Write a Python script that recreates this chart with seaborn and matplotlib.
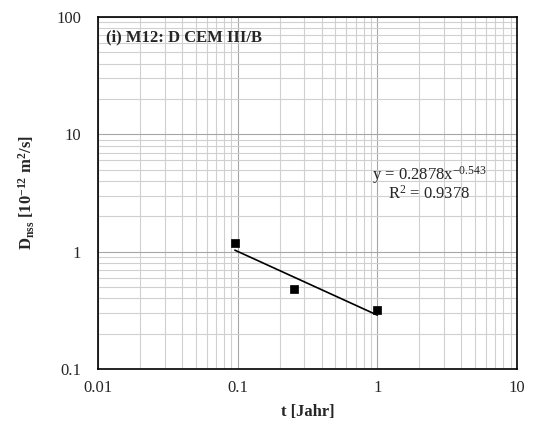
import numpy as np
import pandas as pd
import matplotlib
matplotlib.use("Agg")
import matplotlib.pyplot as plt
import seaborn as sns
from matplotlib.ticker import LogLocator, NullFormatter

sns.set_style("white")
plt.rcParams['font.family'] = ['Liberation Serif', 'DejaVu Serif']
plt.rcParams['mathtext.fontset'] = 'custom'
plt.rcParams['mathtext.rm'] = 'Liberation Serif'
plt.rcParams['mathtext.it'] = 'Liberation Serif:italic'
plt.rcParams['mathtext.bf'] = 'Liberation Serif:bold'
plt.rcParams['mathtext.default'] = 'regular'

t_years = [0.0955, 0.254, 1.0]
d_nss = [1.18, 0.481, 0.318]
fit_a = 0.2878
fit_b = -0.543
x_ticks = [0.01, 0.1, 1, 10]
x_tick_labels = ["0.01", "0.1", "1", "10"]
y_ticks = [0.1, 1, 10, 100]
y_tick_labels = ["0.1", "1", "10", "100"]

df = pd.DataFrame({"t": t_years, "D": d_nss})
fit_x = np.array([min(t_years), max(t_years)])
fit_df = pd.DataFrame({"t": fit_x, "D": fit_a * fit_x ** fit_b})

fig = plt.figure(figsize=(5.33, 4.23), dpi=100)
ax = fig.add_axes([98/533, 1-369/423, (517-98)/533, (369-17)/423])
ax.set_xscale("log")
ax.set_yscale("log")

sns.lineplot(data=fit_df, x="t", y="D", ax=ax, color="black", linewidth=1.2, zorder=3)
sns.scatterplot(data=df, x="t", y="D", ax=ax, marker="s", color="black", s=40,
                edgecolor="black", zorder=4)

ax.set_xlim(0.01, 10)
ax.set_ylim(0.1, 100)
ax.set_xticks(x_ticks)
ax.set_xticklabels(x_tick_labels)
ax.set_yticks(y_ticks)
ax.set_yticklabels(y_tick_labels)
ax.xaxis.set_minor_locator(LogLocator(base=10, subs=np.arange(2, 10)))
ax.yaxis.set_minor_locator(LogLocator(base=10, subs=np.arange(2, 10)))
ax.xaxis.set_minor_formatter(NullFormatter())
ax.yaxis.set_minor_formatter(NullFormatter())
ax.grid(True, which="major", color="#a6a6a6", linewidth=0.8)
ax.grid(True, which="minor", color="#d0d0d0", linewidth=0.8)
ax.tick_params(axis="y", which="both", direction="in", length=4, width=0.8, labelsize=12, pad=12)
ax.tick_params(axis="x", which="both", length=0, labelsize=12, pad=8)
for s in ax.spines.values():
    s.set_color("black")
    s.set_linewidth(1.2)

ax.set_xlabel("t [Jahr]", fontsize=12, fontweight="bold", labelpad=6)
ax.set_ylabel(r"D$_{nss}$ [10$^{-12}$ m$^{2}$/s]", fontsize=12,
              fontweight="bold", labelpad=14)

ax.text(0.02, 0.943, "(i) M12: D CEM III/B", transform=ax.transAxes, fontsize=12,
        fontweight="bold", va="center", ha="left")
ax.text(0.79, 0.552, r"y = 0.2878x$^{-0.543}$", transform=ax.transAxes, fontsize=12,
        va="center", ha="center")
ax.text(0.79, 0.497, r"R$^{2}$ = 0.9378", transform=ax.transAxes, fontsize=12,
        va="center", ha="center")

fig.savefig("out.png", dpi=100)
